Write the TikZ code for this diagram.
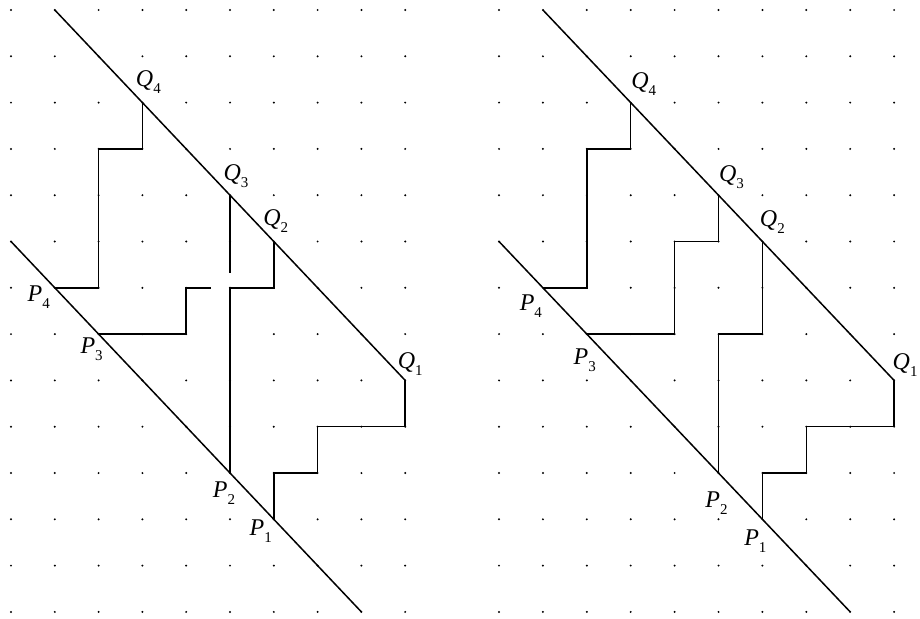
\documentclass[tikz,border=0pt]{standalone}
\usepackage{fontspec}
\setmainfont{Liberation Serif}
\newcommand{\lbl}[2]{\textit{#1}\raisebox{-7pt}{\fontsize{15}{15}\selectfont #2}}
\tikzset{
  griddot/.style={fill=black},
  diag/.style={line width=1.5pt},
  lpath/.style={line width=1.5pt, line join=miter},
  ptlabel/.style={inner sep=0pt, font=\fontsize{24}{26}\selectfont},
  panel/.style={x=43.85pt, y=-46.3pt},
}
\begin{document}
\begin{tikzpicture}
\useasboundingbox (0,0) rectangle (920pt,-618pt);
\fill[white] (0,0) rectangle (920pt,-618pt);

% ---------------- left panel ----------------
\begin{scope}[shift={(11pt,-10pt)}, panel, x=43.8pt]
  \foreach \i in {0,...,9} \foreach \j in {0,...,13} \fill[griddot] (\i,\j) circle (1.1pt);
  \coordinate (UA) at (1,0);
  \coordinate (LA) at (0,5);
  \coordinate (LB) at (8,13);
  \coordinate (Q4) at (3,2);
  \coordinate (Q3) at (5,4);
  \coordinate (Q2) at (6,5);
  \coordinate (Q1) at (9,8);
  \coordinate (P4) at (1,6);
  \coordinate (P3) at (2,7);
  \coordinate (P2) at (5,10);
  \coordinate (P1) at (6,11);
  \coordinate (G1) at (4.56,6);
  \coordinate (G2) at (5,5.68);
  \draw[diag] (UA) -- (Q1);
  \draw[diag] (LA) -- (LB);
  \draw[lpath] (P4) -- (2,6) -- (2,3) -- (3,3) -- (Q4);
  \draw[lpath] (P3) -- (4,7) -- (4,6) -- (G1);
  \draw[lpath] (Q3) -- (G2);
  \draw[lpath] (P2) -- (5,6) -- (6,6) -- (Q2);
  \draw[lpath] (P1) -- (6,10) -- (7,10) -- (7,9) -- (9,9) -- (Q1);
  \node[ptlabel] (lQ4) at ([shift={(6pt,21pt)}]Q4) {\lbl{Q}{4}};
  \node[ptlabel] (lQ3) at ([shift={(6pt,19pt)}]Q3) {\lbl{Q}{3}};
  \node[ptlabel] (lQ2) at ([shift={(2pt,20pt)}]Q2) {\lbl{Q}{2}};
  \node[ptlabel] (lQ1) at ([shift={(5pt,16pt)}]Q1) {\lbl{Q}{1}};
  \node[ptlabel] (lP4) at ([shift={(-16pt,-9pt)}]P4) {\lbl{P}{4}};
  \node[ptlabel] (lP3) at ([shift={(-7pt,-15pt)}]P3) {\lbl{P}{3}};
  \node[ptlabel] (lP2) at ([shift={(-6pt,-20pt)}]P2) {\lbl{P}{2}};
  \node[ptlabel] (lP1) at ([shift={(-13pt,-12pt)}]P1) {\lbl{P}{1}};
\end{scope}

% ---------------- right panel ----------------
\begin{scope}[shift={(499pt,-10pt)}, panel, x=43.9pt]
  \foreach \i in {0,...,9} \foreach \j in {0,...,13} \fill[griddot] (\i,\j) circle (1.1pt);
  \coordinate (rUA) at (1,0);
  \coordinate (rLA) at (0,5);
  \coordinate (rLB) at (8,13);
  \coordinate (rQ4) at (3,2);
  \coordinate (rQ3) at (5,4);
  \coordinate (rQ2) at (6,5);
  \coordinate (rQ1) at (9,8);
  \coordinate (rP4) at (1,6);
  \coordinate (rP3) at (2,7);
  \coordinate (rP2) at (5,10);
  \coordinate (rP1) at (6,11);
  \draw[diag] (rUA) -- (rQ1);
  \draw[diag] (rLA) -- (rLB);
  \draw[lpath] (rP4) -- (2,6) -- (2,3) -- (3,3) -- (rQ4);
  \draw[lpath] (rP3) -- (4,7) -- (4,5) -- (5,5) -- (rQ3);
  \draw[lpath] (rP2) -- (5,7) -- (6,7) -- (rQ2);
  \draw[lpath] (rP1) -- (6,10) -- (7,10) -- (7,9) -- (9,9) -- (rQ1);
  \node[ptlabel] (rlQ4) at ([shift={(13pt,19pt)}]rQ4) {\lbl{Q}{4}};
  \node[ptlabel] (rlQ3) at ([shift={(13pt,18pt)}]rQ3) {\lbl{Q}{3}};
  \node[ptlabel] (rlQ2) at ([shift={(10pt,19pt)}]rQ2) {\lbl{Q}{2}};
  \node[ptlabel] (rlQ1) at ([shift={(11pt,15pt)}]rQ1) {\lbl{Q}{1}};
  \node[ptlabel] (rlP4) at ([shift={(-12pt,-18pt)}]rP4) {\lbl{P}{4}};
  \node[ptlabel] (rlP3) at ([shift={(-2pt,-26pt)}]rP3) {\lbl{P}{3}};
  \node[ptlabel] (rlP2) at ([shift={(-2pt,-30pt)}]rP2) {\lbl{P}{2}};
  \node[ptlabel] (rlP1) at ([shift={(-7pt,-22pt)}]rP1) {\lbl{P}{1}};
\end{scope}
\end{tikzpicture}
\end{document}
